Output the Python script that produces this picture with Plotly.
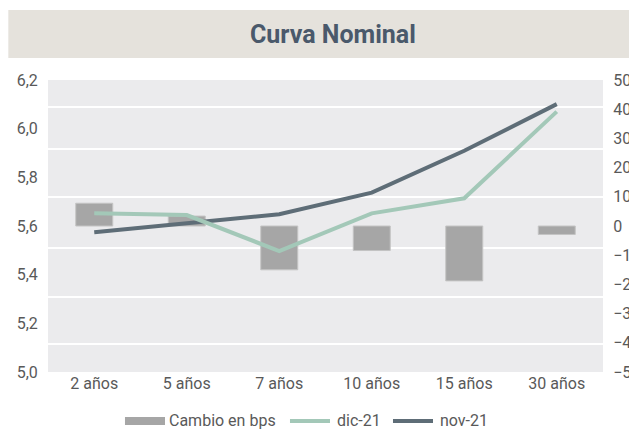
import plotly.graph_objects as go

categories = ["2 años", "5 años", "7 años", "10 años", "15 años", "30 años"]
cambio_bps = [7.8, 3.4, -15.0, -8.4, -18.8, -2.9]
dic_21 = [5.652, 5.645, 5.497, 5.652, 5.714, 6.070]
nov_21 = [5.574, 5.611, 5.648, 5.737, 5.909, 6.101]

grid_bps = [40.9, 26.3, 9.8, -7.5, -24.3, -40.4]

legend_names = ["Cambio en bps", "dic-21", "nov-21"]

FONT = "Roboto"
TICK_COLOR = "#595959"
BAR_COLOR = "#a6a6a6"
DIC_COLOR = "#a3c8b8"
NOV_COLOR = "#5e6d77"

fig = go.Figure()
fig.add_trace(go.Bar(
    x=categories, y=cambio_bps, name=legend_names[0],
    marker=dict(color=BAR_COLOR, line=dict(color="#c4c4c4", width=1)),
    width=0.4, yaxis="y", showlegend=False,
))
fig.add_trace(go.Scatter(
    x=categories, y=nov_21, name=legend_names[2], mode="lines",
    line=dict(color=NOV_COLOR, width=4), yaxis="y2", showlegend=False,
))
fig.add_trace(go.Scatter(
    x=categories, y=dic_21, name=legend_names[1], mode="lines",
    line=dict(color=DIC_COLOR, width=4), yaxis="y2", showlegend=False,
))

# custom legend (paper coordinates)
leg_y = -0.1678
shapes = [
    dict(type="rect", xref="paper", yref="paper", x0=-0.0715, x1=1.1,
         y0=1.0753, y1=1.2397, fillcolor="#e5e2dc", line=dict(width=0), layer="below"),
    dict(type="rect", xref="paper", yref="paper", x0=0.1387, x1=0.2108,
         y0=-0.1815, y1=-0.1541, fillcolor=BAR_COLOR, line=dict(width=0)),
    dict(type="line", xref="paper", yref="paper", x0=0.436, x1=0.5081,
         y0=leg_y, y1=leg_y, line=dict(color=DIC_COLOR, width=4)),
    dict(type="line", xref="paper", yref="paper", x0=0.6216, x1=0.6937,
         y0=leg_y, y1=leg_y, line=dict(color=NOV_COLOR, width=4)),
]
annotations = [dict(text="<b>Curva Nominal</b>", xref="paper", yref="paper",
                    x=0.5138, y=1.1575, xanchor="center", yanchor="middle",
                    showarrow=False, font=dict(family=FONT, size=25, color="#4a596b"))]
for name, xp in zip(legend_names, [0.2144, 0.5171, 0.7027]):
    annotations.append(dict(text=name, xref="paper", yref="paper", x=xp, y=leg_y,
                            xanchor="left", yanchor="middle", showarrow=False,
                            font=dict(family=FONT, size=16, color=TICK_COLOR)))

fig.update_layout(
    width=629, height=433,
    margin=dict(l=48, r=26, t=80, b=61, autoexpand=False),
    paper_bgcolor="white",
    plot_bgcolor="#ebebed",
    separators=",.",
    font=dict(family=FONT, size=16, color=TICK_COLOR),
    showlegend=False,
    xaxis=dict(type="category", categoryarray=categories, showgrid=False, zeroline=False,
               showline=False, ticks="", tickfont=dict(size=16, color=TICK_COLOR)),
    yaxis=dict(side="right", range=[-50, 50], dtick=10, tick0=0, showgrid=False,
               zeroline=False, showline=False, ticks="outside", ticklen=6,
               tickcolor="rgba(0,0,0,0)", tickfont=dict(size=16, color=TICK_COLOR),
               automargin=False,
               minor=dict(tickmode="array", tickvals=grid_bps, showgrid=True,
                          gridcolor="white", gridwidth=2, ticks="")),
    yaxis2=dict(side="left", overlaying="y", range=[5.0, 6.2], dtick=0.2, tick0=5.0,
                tickformat=".1f", showgrid=False, zeroline=False, showline=False,
                ticks="outside", ticklen=6, tickcolor="rgba(0,0,0,0)",
                tickfont=dict(size=16, color=TICK_COLOR), automargin=False),
    shapes=shapes,
    annotations=annotations,
)

fig.write_html("out.html",
               config={"displayModeBar": False},
               post_script="document.body.style.margin='0';document.body.style.overflow='hidden';")
